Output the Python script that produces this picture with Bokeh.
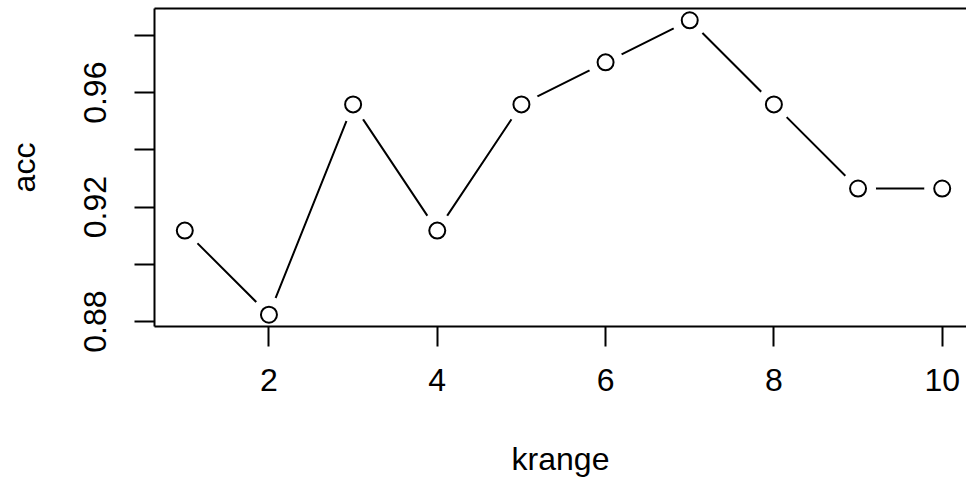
from bokeh.plotting import figure
from bokeh.models import Range1d, FixedTicker, LinearAxis
from bokeh.embed import file_html
from bokeh.resources import INLINE

# accuracy for each k
krange = [1, 2, 3, 4, 5, 6, 7, 8, 9, 10]
acc = [0.9118, 0.8824, 0.9559, 0.9118, 0.9559, 0.9706, 0.9853, 0.9559, 0.9265, 0.9265]

x_ticks = [2, 4, 6, 8, 10]
y_ticks_labelled = [0.88, 0.92, 0.96]
y_ticks_plain = [0.90, 0.94, 0.98]

W, H = 966, 481
LEFT, TOP, BOTTOM = 154, 8, 155
FULL_BOX_W = 818  # full width of the plot box; its right end runs past the page edge

FONT = "Liberation Sans"
FS = "32px"
LW = 2

# ranges padded by 4% of the data span on each side
xlo, xhi = min(krange), max(krange)
xpad = 0.04 * (xhi - xlo)
x_start = xlo - xpad
x_end = x_start + (xhi + xpad - x_start) * (W - LEFT) / FULL_BOX_W

ylo, yhi = min(acc), max(acc)
ypad = 0.04 * (yhi - ylo)

p = figure(
    width=W, height=H,
    x_range=Range1d(x_start, x_end),
    y_range=Range1d(ylo - ypad, yhi + ypad),
    output_backend="svg", toolbar_location=None,
    min_border_left=LEFT, min_border_top=TOP, min_border_bottom=BOTTOM,
    min_border_right=0,
    background_fill_color="white", border_fill_color="white",
)
p.outline_line_color = None
p.grid.visible = False

# axes
xa = p.xaxis[0]
xa.ticker = FixedTicker(ticks=x_ticks)
xa.axis_label = "krange"
ya = p.yaxis[0]
ya.ticker = FixedTicker(ticks=y_ticks_labelled, minor_ticks=y_ticks_plain)
ya.axis_label = "acc"
ya.major_label_orientation = "parallel"

for ax in (xa, ya):
    ax.axis_line_width = LW
    ax.axis_line_color = "black"
    ax.major_tick_line_width = LW
    ax.major_tick_line_color = "black"
    ax.major_tick_in = 0
    ax.major_tick_out = 20
    ax.major_label_text_font = FONT
    ax.major_label_text_font_size = FS
    ax.major_label_text_color = "black"
    ax.axis_label_text_font = FONT
    ax.axis_label_text_font_size = FS
    ax.axis_label_text_font_style = "normal"
    ax.axis_label_text_color = "black"

xa.minor_tick_out = 0
xa.minor_tick_in = 0
xa.major_label_standoff = 22
xa.axis_label_standoff = 47

ya.minor_tick_in = 0
ya.minor_tick_out = 20
ya.minor_tick_line_width = LW
ya.minor_tick_line_color = "black"
ya.major_label_standoff = 28
ya.axis_label_standoff = 40

# top edge of the box
top = LinearAxis(
    ticker=FixedTicker(ticks=[]),
    axis_line_width=LW, axis_line_color="black",
    major_tick_out=0, major_tick_in=0, minor_tick_out=0, minor_tick_in=0,
    major_label_text_font_size="0px", major_label_standoff=0,
)
p.add_layout(top, "above")

# type="b": line with gaps around the points
p.line(krange, acc, line_color="black", line_width=LW)
p.scatter(krange, acc, size=36, fill_color="white", line_color=None)
p.scatter(krange, acc, size=16, fill_color="white", line_color="black", line_width=LW)

open("out.html", "w").write(file_html(p, INLINE))
